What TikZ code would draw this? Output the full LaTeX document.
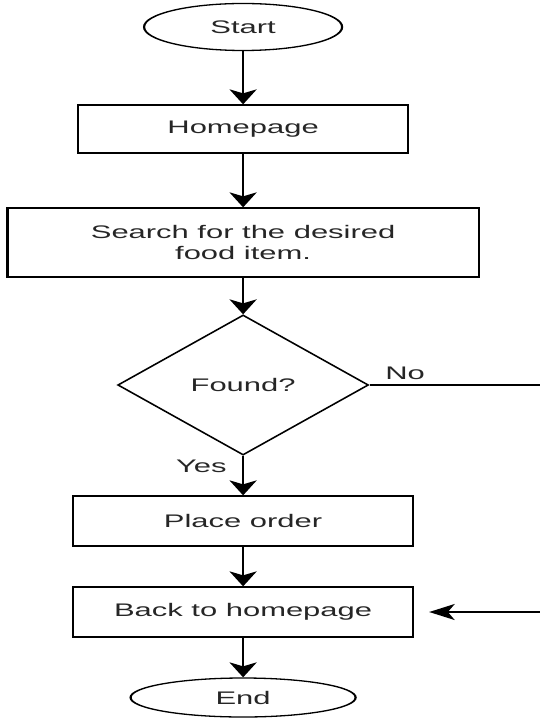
\documentclass[tikz,border=0pt]{standalone}
\usepackage{fontspec}
\setmainfont{Liberation Sans}
\usetikzlibrary{shapes.geometric,arrows.meta}
\begin{document}
\begin{tikzpicture}[x=1pt,y=-1pt,
  txt/.style={font=\fontsize{18.2}{21}\selectfont, text=black!85},
  box/.style={txt, draw, rectangle, line width=1.3pt, inner sep=0pt, align=center},
  term/.style={txt, draw, ellipse, line width=1.3pt, inner sep=0pt},
  dec/.style={txt, draw, diamond, line width=1.3pt, inner sep=0pt},
  flow/.style={line width=1.4pt, -{Stealth[length=15pt,width=16pt,inset=4pt]}},
  plain/.style={line width=1.3pt},
  lbl/.style={txt, inner sep=0pt}
]
\useasboundingbox (0,0) rectangle (540,727);
\begin{scope}[transform canvas={xscale=1.7}]
  \node[term, minimum width=116.5pt, minimum height=47pt] (start) at (143,27) {Start};
  \node[box, minimum width=194.1pt, minimum height=48pt] (home) at (143,129) {Homepage};
  \node[box, minimum width=277.1pt, minimum height=69pt] (search) at (143,242.5) {Search for the desired\\food item.};
  \node[dec, minimum width=147.6pt, minimum height=140pt] (found) at (143,385) {Found?};
  \node[box, minimum width=200pt, minimum height=50pt] (place) at (143,521) {Place order};
  \node[box, minimum width=200pt, minimum height=50pt] (back) at (143,612) {Back to homepage};
  \node[term, minimum width=132.4pt, minimum height=39pt] (end) at (143,697.5) {End};

  \coordinate (noR) at (317.6,385);
  \coordinate (backR) at (317.6,612);

  \draw[flow] (start) -- (home);
  \draw[flow] (home) -- (search);
  \draw[flow] (search) -- (found);
  \draw[flow] (found) -- (place);
  \draw[flow] (place) -- (back);
  \draw[flow] (back) -- (end);
  \draw[plain] (found.east) -- (noR);
  \draw[flow, shorten >=8.8pt] (backR) -- (back.east);

  \node[lbl, anchor=base west] (nolbl) at (226.5,379) {No};
  \node[lbl, anchor=base east] (yeslbl) at (133.5,472) {Yes};
\end{scope}
\end{tikzpicture}
\end{document}
